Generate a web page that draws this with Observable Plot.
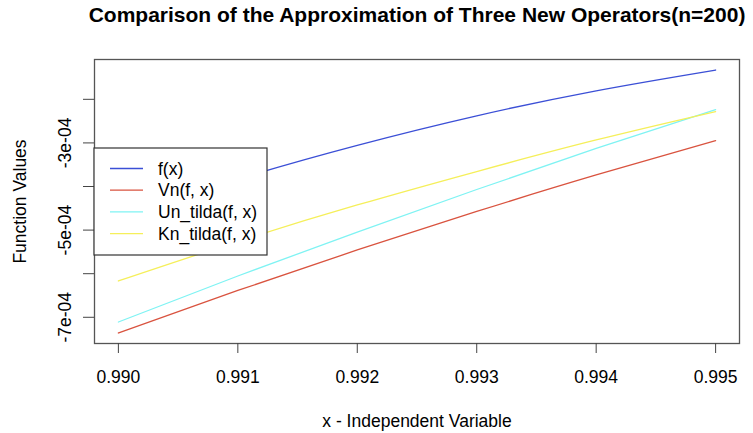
<!DOCTYPE html>
<html>
<head>
<meta charset="utf-8">
<script src="https://cdn.jsdelivr.net/npm/d3@7"></script>
<script src="https://cdn.jsdelivr.net/npm/@observablehq/plot@0.6"></script>
<style>
  html, body { margin: 0; padding: 0; background: #fff; }
  #chart { width: 753px; height: 433px; }
</style>
</head>
<body>
<div id="chart"></div>
<script>
// ---- data ----
const xValues = [0.990, 0.991, 0.992, 0.993, 0.994, 0.995];
const fValues  = [-4.706e-4, -3.830e-4, -3.055e-4, -2.378e-4, -1.804e-4, -1.328e-4];
const vnValues = [-7.360e-4, -6.385e-4, -5.456e-4, -4.573e-4, -3.736e-4, -2.947e-4];
const unValues = [-7.108e-4, -6.053e-4, -5.044e-4, -4.069e-4, -3.128e-4, -2.236e-4];
const knValues = [-6.167e-4, -5.261e-4, -4.424e-4, -3.656e-4, -2.933e-4, -2.282e-4];

const seriesNames  = ["f(x)", "Vn(f, x)", "Un_tilda(f, x)", "Kn_tilda(f, x)"];
const seriesColors = ["#3b4fd6", "#d9533f", "#7ff3f3", "#f5ef5a"];
const seriesValues = [fValues, vnValues, unValues, knValues];

const xTicks = [0.990, 0.991, 0.992, 0.993, 0.994, 0.995];
const yTicks = [-7e-4, -6e-4, -5e-4, -4e-4, -3e-4, -2e-4];
const yTickLabels = [-7e-4, -5e-4, -3e-4];

const titleText = "Comparison of the Approximation of Three New Operators(n=200)";
const xLabel = "x - Independent Variable";
const yLabel = "Function Values";

// ---- build ----
const FONT = "'Liberation Sans', Arial, Helvetica, sans-serif";
const pad = ([a, b]) => { const r = b - a; return [a - 0.04 * r, b + 0.04 * r]; };
const xDomain = pad(d3.extent(xValues));
const yDomain = pad(d3.extent(seriesValues.flat()));

const fmtSci = d => d.toExponential(0).replace(/e([+-])(\d)$/, (m, s, n) => "e" + s + "0" + n);

const rows = seriesNames.map((name, i) =>
  xValues.map((x, j) => ({series: name, x, y: seriesValues[i][j]})));

const plot = Plot.plot({
  width: 753,
  height: 433,
  marginLeft: 94,
  marginRight: 14,
  marginTop: 59,
  marginBottom: 90,
  style: {fontFamily: FONT, fontSize: "17.5px", background: "#fff", color: "#000"},
  x: {domain: xDomain},
  y: {domain: yDomain},
  marks: [
    ...rows.map((r, i) => Plot.line(r, {x: "x", y: "y", stroke: seriesColors[i], strokeWidth: 1.3, curve: "natural"})),
    Plot.frame({stroke: "#555", strokeWidth: 1.3}),
    Plot.axisX(xTicks, {anchor: "bottom", tickSize: 10, tickPadding: 17, tickFormat: d3.format(".3f"), label: null, fontSize: 17.5, stroke: "#444"}),
    Plot.axisY(yTicks, {anchor: "left", tickSize: 11, tickFormat: () => "", label: null, stroke: "#444"}),
    Plot.text(yTickLabels, {y: d => d, text: fmtSci, frameAnchor: "left", rotate: -90, textAnchor: "middle", lineAnchor: "bottom", dx: -24, fontSize: 17.5}),
    Plot.text([titleText], {text: d => d, frameAnchor: "top", textAnchor: "middle", dy: -37.5, lineAnchor: "bottom", fontWeight: "bold", fontSize: 21}),
    Plot.text([xLabel], {text: d => d, frameAnchor: "bottom", textAnchor: "middle", dy: 83, lineAnchor: "bottom", fontSize: 17.5}),
    Plot.text([yLabel], {text: d => d, frameAnchor: "left", rotate: -90, textAnchor: "middle", lineAnchor: "middle", dx: -74, fontSize: 17.5})
  ]
});

// ---- legend (placed at the left of the panel, as in the reference) ----
const svg = d3.select(plot);
const lg = svg.append("g").attr("font-family", FONT).attr("font-size", 17.5).attr("text-anchor", "start");
const box = {x: 94, y: 148, w: 173, h: 107};
lg.append("rect").attr("x", box.x).attr("y", box.y).attr("width", box.w).attr("height", box.h)
  .attr("fill", "#fff").attr("stroke", "#333").attr("stroke-width", 1.2);
seriesNames.forEach((name, i) => {
  const cy = box.y + 20.5 + i * 21.7;
  lg.append("line").attr("x1", 110).attr("x2", 143).attr("y1", cy).attr("y2", cy)
    .attr("stroke", seriesColors[i]).attr("stroke-width", 1.3);
  lg.append("text").attr("x", 158).attr("y", cy).attr("dy", "0.35em").attr("fill", "#000")
    .attr("text-anchor", "start").text(name);
});

document.getElementById("chart").appendChild(plot);
</script>
</body>
</html>
